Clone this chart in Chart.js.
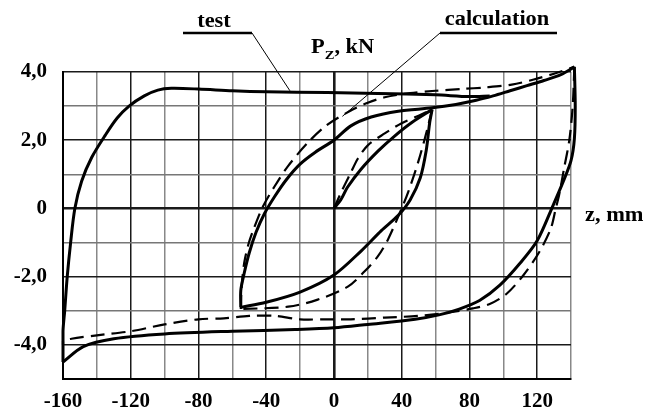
<!DOCTYPE html>
<html>
<head>
<meta charset="utf-8">
<script src="https://cdn.jsdelivr.net/npm/chart.js@4"></script>
<style>
    body { margin: 0; background: #fff; }
    #hysteresis-chart { width: 646px; height: 412px; position: relative; }
</style>
</head>
<body>
<div id="hysteresis-chart"><canvas id="chartCanvas"></canvas></div>
<script>
// test curves (solid), z in mm, P in kN
const testVirginZ = [0, 4, 8, 16, 26, 36, 46, 58];
const testVirginP = [0, 0.25, 0.62, 1.15, 1.68, 2.13, 2.52, 2.9];
const testUnload1Z = [58, 56.5, 54.5, 51, 45, 38, 28, 16, 0, -20, -40, -55];
const testUnload1P = [2.9, 2.5, 1.7, 0.9, 0.25, -0.2, -0.65, -1.25, -1.95, -2.45, -2.75, -2.9];
const testReload1Z = [-55, -55, -53, -50, -46, -41, -35, -28, -20, -11, 0, 10, 22, 38, 58, 72, 84, 94, 104, 114, 124, 134, 142];
const testReload1P = [-2.9, -2.4, -1.9, -1.3, -0.7, -0.15, 0.35, 0.85, 1.3, 1.65, 2.0, 2.42, 2.68, 2.85, 2.95, 3.05, 3.17, 3.3, 3.45, 3.6, 3.75, 3.92, 4.15];
const testUnload2Z = [142, 142.5, 142, 140, 135.5, 129.5, 120, 110, 98, 86, 74, 62, 48, 20, 0, -23, -60, -100, -130, -148, -160];
const testUnload2P = [4.15, 3.0, 2.05, 1.4, 0.8, 0.1, -0.95, -1.6, -2.25, -2.7, -2.95, -3.12, -3.25, -3.4, -3.5, -3.55, -3.6, -3.68, -3.82, -4.05, -4.5];
const testReload2Z = [-160, -160, -159, -157.5, -155.5, -153, -149, -143, -135, -128, -121, -112, -104, -96, -80, -60, -40, -4, 26, 60, 80, 92];
const testReload2P = [-4.5, -3.6, -3.0, -2.0, -1.0, 0.0, 0.8, 1.5, 2.15, 2.65, 3.0, 3.3, 3.47, 3.52, 3.5, 3.45, 3.42, 3.4, 3.37, 3.33, 3.28, 3.3];

// calculation curves (dashed)
const calcVirginZ = [0, 5, 10, 14, 20, 30, 40, 50, 58];
const calcVirginP = [0, 0.55, 1.05, 1.45, 1.85, 2.2, 2.5, 2.72, 2.9];
const calcUnload1Z = [58, 55, 50, 44, 40, 32, 26, 18, 8, -10, -27, -55];
const calcUnload1P = [2.9, 2.3, 1.4, 0.5, 0.0, -0.9, -1.4, -1.85, -2.3, -2.68, -2.88, -2.95];
const calcReload1Z = [-55, -54.5, -53, -50.5, -47, -42, -35, -27, -15, -4, 10, 20, 30, 45, 60, 75, 90, 105, 118, 130, 142];
const calcReload1P = [-2.95, -2.3, -1.6, -1.05, -0.55, 0.05, 0.65, 1.25, 1.95, 2.45, 2.87, 3.1, 3.26, 3.38, 3.45, 3.5, 3.55, 3.63, 3.78, 3.95, 4.15];
const calcUnload2Z = [142, 141, 139, 136, 133, 131, 128, 121, 112, 102, 92, 82, 68, 50, 30, 10, -5, -20, -35, -50, -65, -80, -100, -120, -140, -155, -160, -160];
const calcUnload2P = [4.15, 3.0, 2.0, 1.2, 0.4, 0.0, -0.6, -1.3, -1.95, -2.5, -2.8, -2.93, -3.05, -3.15, -3.2, -3.25, -3.25, -3.25, -3.15, -3.15, -3.22, -3.25, -3.4, -3.6, -3.72, -3.82, -3.9, -4.0];

// axis ticks
const zTickLabels = [-160, -120, -80, -40, 0, 40, 80, 120];
const pTickLabels = [-4, -2, 0, 2, 4];

const serif = '"Liberation Serif", "Times New Roman", serif';

function toPoints(zs, ps) {
    return zs.map((z, i) => ({ x: z, y: ps[i] }));
}

function solid(zs, ps) {
    return {
        data: toPoints(zs, ps),
        borderColor: '#000',
        borderWidth: 3,
        pointRadius: 0,
        showLine: true,
        tension: 0.3,
        clip: false
    };
}

function dashed(zs, ps) {
    return {
        data: toPoints(zs, ps),
        borderColor: '#000',
        borderWidth: 2.2,
        borderDash: [14, 7],
        pointRadius: 0,
        showLine: true,
        tension: 0.3,
        clip: false
    };
}

// text labels and leader lines
const labelPlugin = {
    id: 'labelPlugin',
    afterDraw(chart) {
        const ctx = chart.ctx;
        const xs = chart.scales.x;
        const ys = chart.scales.y;

        function text(str, x, y, size, align) {
            ctx.save();
            ctx.font = `bold ${size}px ${serif}`;
            ctx.fillStyle = '#000';
            ctx.textAlign = align || 'left';
            ctx.textBaseline = 'alphabetic';
            ctx.translate(x, y);
            ctx.scale(1.12, 1);
            ctx.fillText(str, 0, 0);
            const w = ctx.measureText(str).width * 1.12;
            ctx.restore();
            return w;
        }

        function line(x1, y1, x2, y2, w) {
            ctx.save();
            ctx.strokeStyle = '#000';
            ctx.lineWidth = w;
            ctx.beginPath();
            ctx.moveTo(x1, y1);
            ctx.lineTo(x2, y2);
            ctx.stroke();
            ctx.restore();
        }

        // "test" leader
        text('test', 214, 27, 20, 'center');
        line(183, 33, 252, 33, 2.5);
        line(252, 33, xs.getPixelForValue(-26), ys.getPixelForValue(3.45), 1);

        // "calculation" leader
        text('calculation', 497, 25, 20, 'center');
        line(440, 33, 557, 33, 2.5);
        line(440, 33, xs.getPixelForValue(5), ys.getPixelForValue(2.7), 1);

        // axis titles
        let x = 311;
        x += text('P', x, 53, 20);
        x += text('Z', x, 59, 13);
        text(', kN', x, 53, 20);
        text('z, mm', 585, 221, 20);
    }
};

new Chart(document.getElementById('chartCanvas'), {
    type: 'scatter',
    data: {
        datasets: [
            solid(testVirginZ, testVirginP),
            solid(testUnload1Z, testUnload1P),
            solid(testReload1Z, testReload1P),
            solid(testUnload2Z, testUnload2P),
            solid(testReload2Z, testReload2P),
            dashed(calcVirginZ, calcVirginP),
            dashed(calcUnload1Z, calcUnload1P),
            dashed(calcReload1Z, calcReload1P),
            dashed(calcUnload2Z, calcUnload2P)
        ]
    },
    options: {
        responsive: true,
        maintainAspectRatio: false,
        animation: false,
        layout: {
            padding: { top: 72, right: 75, left: 0, bottom: 0 }
        },
        plugins: {
            legend: { display: false },
            tooltip: { enabled: false }
        },
        scales: {
            x: {
                type: 'linear',
                min: -160,
                max: 140,
                afterFit: (scale) => { scale.height = 33; },
                ticks: {
                    stepSize: 20,
                    autoSkip: false,
                    maxRotation: 0,
                    padding: 10,
                    color: '#000',
                    font: { family: serif, size: 21, weight: 'bold' },
                    callback: (v) => zTickLabels.includes(v) ? String(v) : ''
                },
                grid: {
                    drawTicks: false,
                    color: (c) => c.tick && c.tick.value % 40 === 0 ? '#1a1a1a' : '#888',
                    lineWidth: (c) => c.tick && c.tick.value === 0 ? 2.6 : 1.5
                },
                border: { display: true, color: '#000', width: 2 }
            },
            y: {
                type: 'linear',
                min: -5,
                max: 4,
                afterFit: (scale) => { scale.width = 63; },
                ticks: {
                    stepSize: 1,
                    autoSkip: false,
                    padding: 16,
                    color: '#000',
                    font: { family: serif, size: 21, weight: 'bold' },
                    callback: (v) => {
                        if (!pTickLabels.includes(v)) return '';
                        return v === 0 ? '0' : v.toFixed(1).replace('.', ',');
                    }
                },
                grid: {
                    drawTicks: false,
                    color: (c) => c.tick && c.tick.value % 2 === 0 ? '#1a1a1a' : '#777',
                    lineWidth: (c) => c.tick && c.tick.value === 0 ? 2.6 : 1.5
                },
                border: { display: true, color: '#000', width: 2 }
            }
        }
    },
    plugins: [labelPlugin]
});
</script>
</body>
</html>
